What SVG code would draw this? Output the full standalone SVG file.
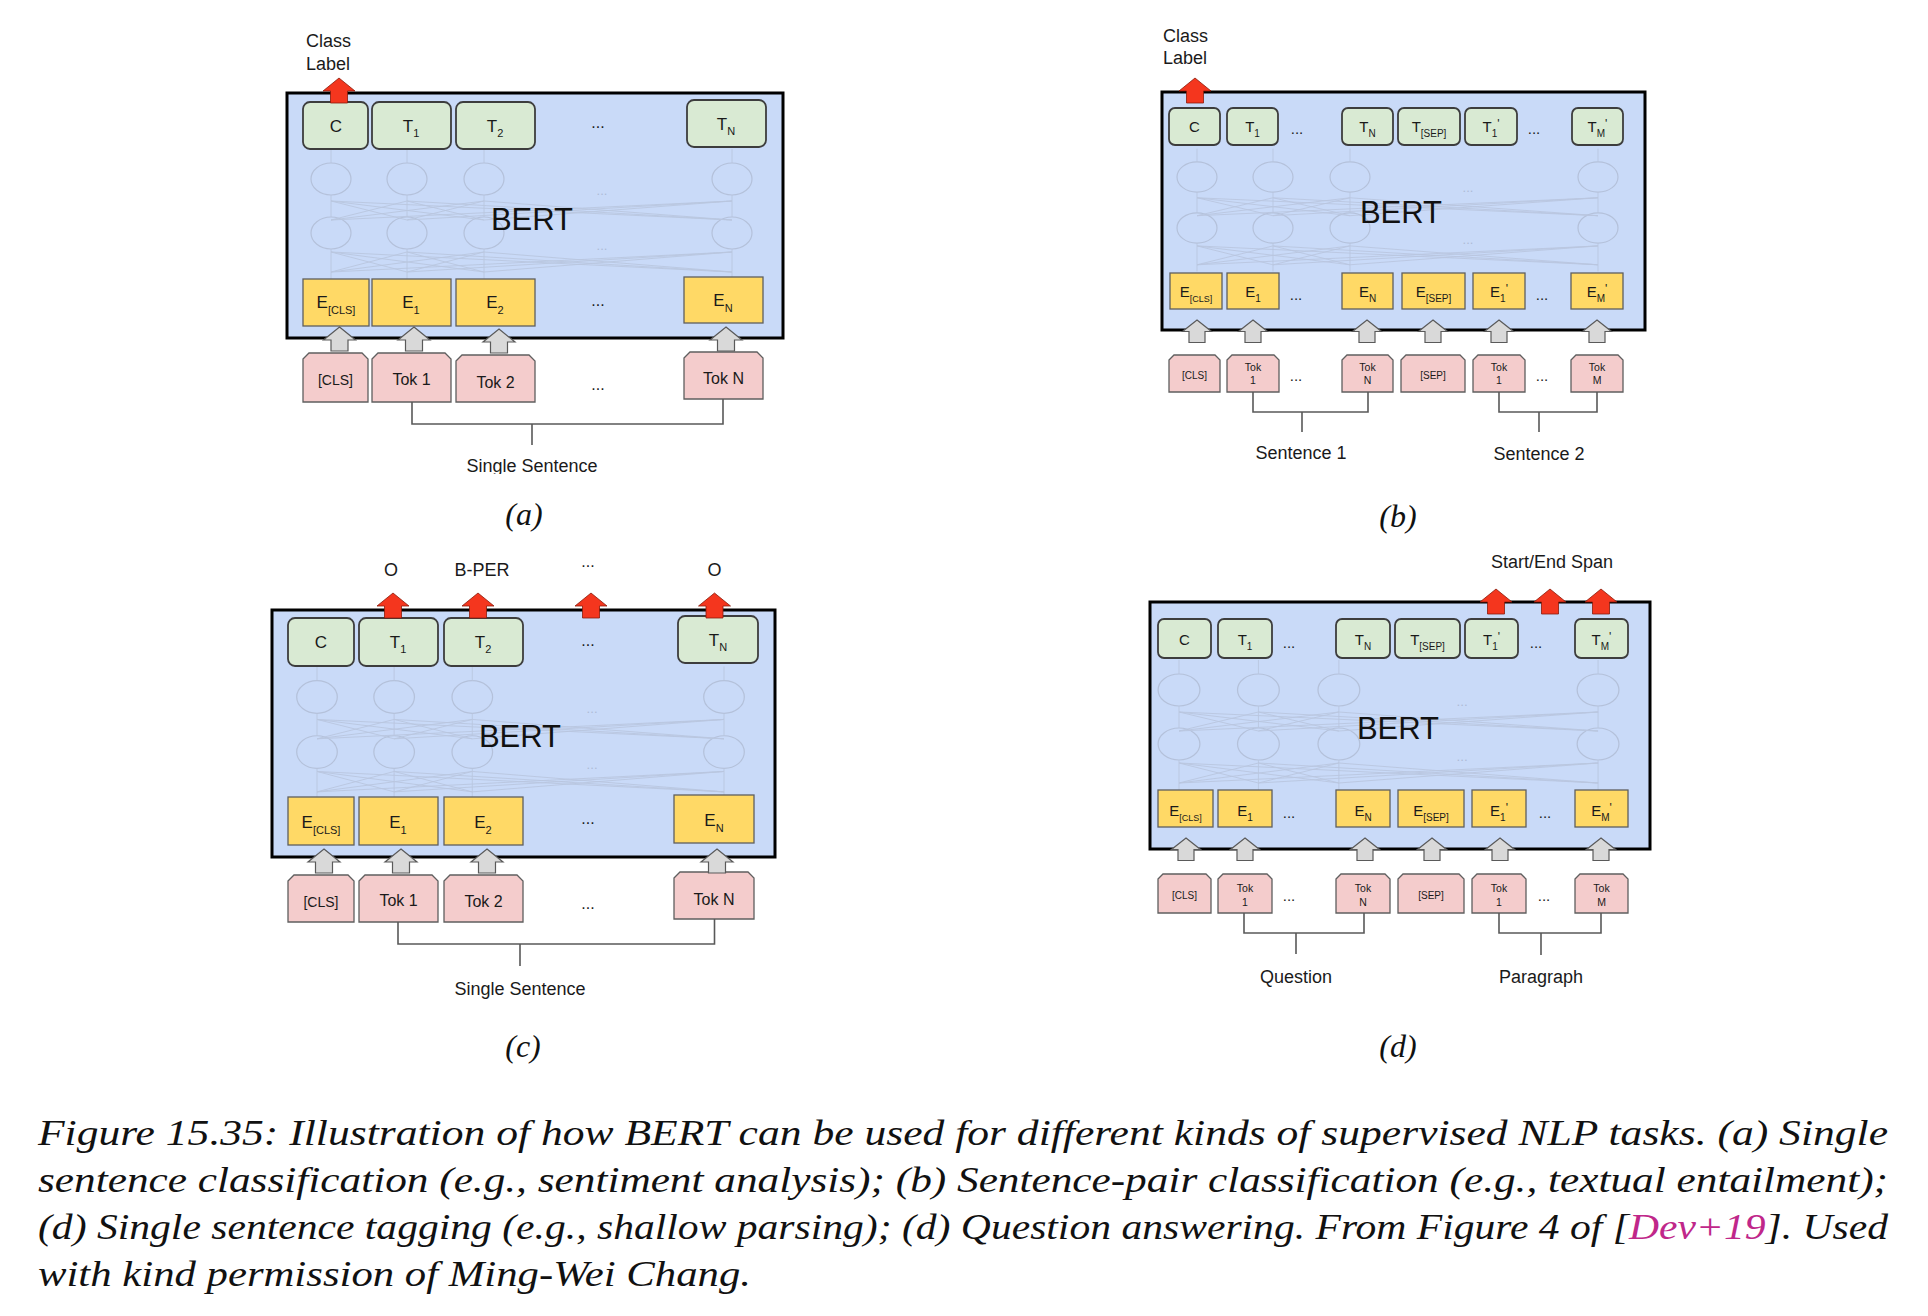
<svg xmlns="http://www.w3.org/2000/svg" xmlns:xlink="http://www.w3.org/1999/xlink" width="1928" height="1316" viewBox="0 0 1928 1316">
<style>
.bert{fill:#c9daf8;stroke:#000;stroke-width:3}
.out{fill:#d9ead3;stroke:#3d3d3d;stroke-width:1.8}
.emb{fill:#ffd966;stroke:#5f5f5f;stroke-width:1.3}
.tok{fill:#f4cccc;stroke:#5f5f5f;stroke-width:1.3}
.ga{fill:#d9d9d9;stroke:#5a5a5a;stroke-width:1.2}
.ra{fill:#f4361e;stroke:#8a1a0a;stroke-width:0.8}
.br{fill:none;stroke:#595959;stroke-width:1.6}
text{font-family:"Liberation Sans",Arial,sans-serif;fill:#1a1a1a}
.m{text-anchor:middle}
.nete{fill:none;stroke:#b4c1da;stroke-width:1.2}
.netl{fill:none;stroke:#b9c6df;stroke-width:0.9}
.netd{font-size:13px;fill:#aebbd6}
.bt{font-size:31px;text-anchor:middle;fill:#111}
.cap{font-family:"Liberation Serif","Times New Roman",serif;font-style:italic;font-size:35px;fill:#111}
.fig{font-family:"Liberation Serif","Times New Roman",serif;font-style:italic;font-size:32px;fill:#111;text-anchor:middle}
</style>
<defs>
<g id="net">
<ellipse class="nete" cx="0" cy="0" rx="20" ry="16"/><ellipse class="nete" cx="76" cy="0" rx="20" ry="16"/><ellipse class="nete" cx="153" cy="0" rx="20" ry="16"/><ellipse class="nete" cx="401" cy="0" rx="20" ry="16"/>
<ellipse class="nete" cx="0" cy="54" rx="20" ry="16"/><ellipse class="nete" cx="76" cy="54" rx="20" ry="16"/><ellipse class="nete" cx="153" cy="54" rx="20" ry="16"/><ellipse class="nete" cx="401" cy="54" rx="20" ry="16"/>
<path class="netl" d="M0 -16V-30M76 -16V-30M153 -16V-30M401 -16V-30M0 16V38M76 16V38M153 16V38M401 16V38M0 70V100M76 70V100M153 70V100M401 70V100"/>
<path class="netl" d="M0 41L76 22M0 41L153 22M0 41L401 22M76 41L0 22M76 41L153 22M76 41L401 22M153 41L0 22M153 41L76 22M153 41L401 22M401 41L0 22M401 41L76 22M401 41L153 22"/>
<path class="netl" d="M0 93L76 73M0 93L153 73M0 93L401 73M76 93L0 73M76 93L153 73M76 93L401 73M153 93L0 73M153 93L76 73M153 93L401 73M401 93L0 73M401 93L76 73M401 93L153 73"/>
<text class="netd" x="271" y="16" text-anchor="middle">...</text>
<text class="netd" x="271" y="71" text-anchor="middle">...</text>
</g>
<path id="ra" class="ra" d="M0 0L16 13L8.5 13L8.5 25L-8.5 25L-8.5 13L-16 13Z"/>
<path id="gaB" class="ga" d="M0 0L16 13L8.5 13L8.5 24L-8.5 24L-8.5 13L-16 13Z"/>
<path id="gaS" class="ga" d="M0 0L14.5 11.5L8 11.5L8 22.5L-8 22.5L-8 11.5L-14.5 11.5Z"/>
<clipPath id="clipA"><rect x="380" y="440" width="320" height="34"/></clipPath>
</defs>
<rect width="1928" height="1316" fill="#fff"/>

<!-- Panel (a) -->
<g id="panel-a">
<g id="a-bert"><rect class="bert" x="287" y="93" width="496" height="245"/>
<use xlink:href="#net" transform="translate(331,179)"/>
<text class="bt" x="532" y="230">BERT</text></g>
<g id="a-C"><rect class="out" x="303" y="102" width="65" height="47" rx="7"/><text class="m" x="336" y="132" font-size="17">C</text></g>
<g id="a-T1"><rect class="out" x="372" y="102" width="79" height="47" rx="7"/><text class="m" x="411" y="132" font-size="17">T<tspan dy="5" font-size="11">1</tspan></text></g>
<g id="a-T2"><rect class="out" x="456" y="102" width="79" height="47" rx="7"/><text class="m" x="495" y="132" font-size="17">T<tspan dy="5" font-size="11">2</tspan></text></g>
<text class="m" x="598" y="128" font-size="16">...</text>
<g id="a-TN"><rect class="out" x="687" y="100" width="79" height="47" rx="7"/><text class="m" x="726" y="130" font-size="17">T<tspan dy="5" font-size="11">N</tspan></text></g>
<g id="a-ECLS"><rect class="emb" x="303" y="279" width="66" height="47"/><text class="m" x="336" y="308" font-size="17">E<tspan dy="6" font-size="11">[CLS]</tspan></text></g>
<g id="a-E1"><rect class="emb" x="372" y="279" width="79" height="47"/><text class="m" x="411" y="308" font-size="17">E<tspan dy="6" font-size="11">1</tspan></text></g>
<g id="a-E2"><rect class="emb" x="456" y="279" width="79" height="47"/><text class="m" x="495" y="308" font-size="17">E<tspan dy="6" font-size="11">2</tspan></text></g>
<text class="m" x="598" y="306" font-size="16">...</text>
<g id="a-EN"><rect class="emb" x="684" y="277" width="79" height="46"/><text class="m" x="723" y="306" font-size="17">E<tspan dy="6" font-size="11">N</tspan></text></g>
<g id="a-tCLS"><path class="tok" d="M303 359L309 353H362L368 359V402H303Z"/><text class="m" x="335.5" y="385" font-size="14">[CLS]</text></g>
<g id="a-tok1"><path class="tok" d="M372 359L378 353H445L451 359V402H372Z"/><text class="m" x="411.5" y="385" font-size="16">Tok 1</text></g>
<g id="a-tok2"><path class="tok" d="M456 361L462 355H529L535 361V402H456Z"/><text class="m" x="495.5" y="388" font-size="16">Tok 2</text></g>
<text class="m" x="598" y="390" font-size="16">...</text>
<g id="a-tokN"><path class="tok" d="M684 358L690 352H757L763 358V399H684Z"/><text class="m" x="723.5" y="384" font-size="16">Tok N</text></g>
<text id="a-class" x="306" y="47" font-size="18">Class<tspan x="306" y="70">Label</tspan></text>
<text id="a-single" class="m" x="532" y="472" font-size="18" clip-path="url(#clipA)">Single Sentence</text>
<text class="fig" x="524" y="525">(a)</text>
</g>

<!-- Panel (b) -->
<g id="panel-b">
<g id="b-bert"><rect class="bert" x="1162" y="92" width="483" height="238"/>
<use xlink:href="#net" transform="translate(1197,177) scale(1,0.944)"/>
<text class="bt" x="1401" y="223" font-size="29">BERT</text></g>
<g id="b-C"><rect class="out" x="1169" y="108" width="51" height="37" rx="6"/><text class="m" x="1194.5" y="132" font-size="15">C</text></g>
<g id="b-T1"><rect class="out" x="1227" y="108" width="51" height="37" rx="6"/><text class="m" x="1252.5" y="132" font-size="15">T<tspan dy="5" font-size="10">1</tspan></text></g>
<text class="m" x="1297" y="134" font-size="15">...</text>
<g id="b-TN"><rect class="out" x="1342" y="108" width="51" height="37" rx="6"/><text class="m" x="1367.5" y="132" font-size="15">T<tspan dy="5" font-size="10">N</tspan></text></g>
<g id="b-TSEP"><rect class="out" x="1398" y="108" width="62" height="37" rx="6"/><text class="m" x="1429" y="132" font-size="15">T<tspan dy="5" font-size="10">[SEP]</tspan></text></g>
<g id="b-T1p"><rect class="out" x="1465" y="108" width="52" height="37" rx="6"/><text class="m" x="1491" y="132" font-size="15">T<tspan dy="5" font-size="10">1</tspan><tspan dy="-9" font-size="12">'</tspan></text></g>
<text class="m" x="1534" y="134" font-size="15">...</text>
<g id="b-TMp"><rect class="out" x="1572" y="108" width="51" height="37" rx="6"/><text class="m" x="1597.5" y="132" font-size="15">T<tspan dy="5" font-size="10">M</tspan><tspan dy="-9" font-size="12">'</tspan></text></g>
<g id="b-ECLS"><rect class="emb" x="1170" y="273" width="52" height="36"/><text class="m" x="1196" y="297" font-size="15">E<tspan dy="5" font-size="9">[CLS]</tspan></text></g>
<g id="b-E1"><rect class="emb" x="1227" y="273" width="52" height="36"/><text class="m" x="1253" y="297" font-size="15">E<tspan dy="5" font-size="10">1</tspan></text></g>
<text class="m" x="1296" y="300" font-size="15">...</text>
<g id="b-EN"><rect class="emb" x="1342" y="273" width="51" height="36"/><text class="m" x="1367.5" y="297" font-size="15">E<tspan dy="5" font-size="10">N</tspan></text></g>
<g id="b-ESEP"><rect class="emb" x="1402" y="273" width="63" height="36"/><text class="m" x="1433.5" y="297" font-size="15">E<tspan dy="5" font-size="10">[SEP]</tspan></text></g>
<g id="b-E1p"><rect class="emb" x="1473" y="273" width="52" height="36"/><text class="m" x="1499" y="297" font-size="15">E<tspan dy="5" font-size="10">1</tspan><tspan dy="-9" font-size="12">'</tspan></text></g>
<text class="m" x="1542" y="300" font-size="15">...</text>
<g id="b-EMp"><rect class="emb" x="1571" y="273" width="52" height="36"/><text class="m" x="1597" y="297" font-size="15">E<tspan dy="5" font-size="10">M</tspan><tspan dy="-9" font-size="12">'</tspan></text></g>
<g id="b-tCLS"><path class="tok" d="M1169 360L1174 355H1215L1220 360V392H1169Z"/><text class="m" x="1194.5" y="379" font-size="10">[CLS]</text></g>
<g id="b-tok1"><path class="tok" d="M1227 360L1232 355H1274L1279 360V392H1227Z"/><text class="m" x="1253" y="371" font-size="10.5">Tok<tspan x="1253" y="384">1</tspan></text></g>
<text class="m" x="1296" y="381" font-size="15">...</text>
<g id="b-tokN"><path class="tok" d="M1342 360L1347 355H1388L1393 360V392H1342Z"/><text class="m" x="1367.5" y="371" font-size="10.5">Tok<tspan x="1367.5" y="384">N</tspan></text></g>
<g id="b-tSEP"><path class="tok" d="M1401 360L1406 355H1460L1465 360V392H1401Z"/><text class="m" x="1433" y="379" font-size="10">[SEP]</text></g>
<g id="b-tok1p"><path class="tok" d="M1473 360L1478 355H1520L1525 360V392H1473Z"/><text class="m" x="1499" y="371" font-size="10.5">Tok<tspan x="1499" y="384">1</tspan></text></g>
<text class="m" x="1542" y="381" font-size="15">...</text>
<g id="b-tokM"><path class="tok" d="M1571 360L1576 355H1618L1623 360V392H1571Z"/><text class="m" x="1597" y="371" font-size="10.5">Tok<tspan x="1597" y="384">M</tspan></text></g>
<text id="b-class" x="1163" y="42" font-size="18">Class<tspan x="1163" y="64">Label</tspan></text>
<text id="b-s1" class="m" x="1301" y="459" font-size="18">Sentence 1</text>
<text id="b-s2" class="m" x="1539" y="460" font-size="18">Sentence 2</text>
<text class="fig" x="1398" y="527">(b)</text>
</g>

<!-- Panel (c) -->
<g id="panel-c">
<g id="c-bert"><rect class="bert" x="272" y="610" width="503" height="247"/>
<use xlink:href="#net" transform="translate(317,697) scale(1.015,1.02)"/>
<text class="bt" x="520" y="747">BERT</text></g>
<g id="c-C"><rect class="out" x="288" y="618" width="66" height="48" rx="7"/><text class="m" x="321" y="648" font-size="17">C</text></g>
<g id="c-T1"><rect class="out" x="359" y="618" width="79" height="48" rx="7"/><text class="m" x="398" y="648" font-size="17">T<tspan dy="5" font-size="11">1</tspan></text></g>
<g id="c-T2"><rect class="out" x="444" y="618" width="79" height="48" rx="7"/><text class="m" x="483" y="648" font-size="17">T<tspan dy="5" font-size="11">2</tspan></text></g>
<text class="m" x="588" y="646" font-size="16">...</text>
<g id="c-TN"><rect class="out" x="678" y="616" width="80" height="47" rx="7"/><text class="m" x="718" y="646" font-size="17">T<tspan dy="5" font-size="11">N</tspan></text></g>
<g id="c-ECLS"><rect class="emb" x="288" y="797" width="66" height="48"/><text class="m" x="321" y="828" font-size="17">E<tspan dy="6" font-size="11">[CLS]</tspan></text></g>
<g id="c-E1"><rect class="emb" x="359" y="797" width="79" height="48"/><text class="m" x="398" y="828" font-size="17">E<tspan dy="6" font-size="11">1</tspan></text></g>
<g id="c-E2"><rect class="emb" x="444" y="797" width="79" height="48"/><text class="m" x="483" y="828" font-size="17">E<tspan dy="6" font-size="11">2</tspan></text></g>
<text class="m" x="588" y="824" font-size="16">...</text>
<g id="c-EN"><rect class="emb" x="674" y="795" width="80" height="48"/><text class="m" x="714" y="826" font-size="17">E<tspan dy="6" font-size="11">N</tspan></text></g>
<g id="c-tCLS"><path class="tok" d="M288 881L294 875H348L354 881V922H288Z"/><text class="m" x="321" y="907" font-size="14">[CLS]</text></g>
<g id="c-tok1"><path class="tok" d="M359 881L365 875H432L438 881V922H359Z"/><text class="m" x="398.5" y="906" font-size="16">Tok 1</text></g>
<g id="c-tok2"><path class="tok" d="M444 881L450 875H517L523 881V922H444Z"/><text class="m" x="483.5" y="907" font-size="16">Tok 2</text></g>
<text class="m" x="588" y="909" font-size="16">...</text>
<g id="c-tokN"><path class="tok" d="M674 878L680 872H748L754 878V919H674Z"/><text class="m" x="714" y="905" font-size="16">Tok N</text></g>
<text id="c-l1" class="m" x="391" y="576" font-size="18">O</text>
<text id="c-l2" class="m" x="482" y="576" font-size="18">B-PER</text>
<text id="c-l3" class="m" x="588" y="567" font-size="16">...</text>
<text id="c-l4" class="m" x="714.5" y="576" font-size="18">O</text>
<text id="c-single" class="m" x="520" y="995" font-size="18">Single Sentence</text>
<text class="fig" x="523" y="1057">(c)</text>
</g>

<!-- Panel (d) -->
<g id="panel-d">
<g id="d-bert"><rect class="bert" x="1150" y="602" width="500" height="247"/>
<use xlink:href="#net" transform="translate(1179,690) scale(1.045,1)"/>
<text class="bt" x="1398" y="739" font-size="29">BERT</text></g>
<g id="d-C"><rect class="out" x="1158" y="619" width="53" height="39" rx="6"/><text class="m" x="1184.5" y="645" font-size="15">C</text></g>
<g id="d-T1"><rect class="out" x="1218" y="619" width="54" height="39" rx="6"/><text class="m" x="1245" y="645" font-size="15">T<tspan dy="5" font-size="10">1</tspan></text></g>
<text class="m" x="1289" y="648" font-size="15">...</text>
<g id="d-TN"><rect class="out" x="1336" y="619" width="54" height="39" rx="6"/><text class="m" x="1363" y="645" font-size="15">T<tspan dy="5" font-size="10">N</tspan></text></g>
<g id="d-TSEP"><rect class="out" x="1395" y="619" width="65" height="39" rx="6"/><text class="m" x="1427.5" y="645" font-size="15">T<tspan dy="5" font-size="10">[SEP]</tspan></text></g>
<g id="d-T1p"><rect class="out" x="1465" y="619" width="53" height="39" rx="6"/><text class="m" x="1491.5" y="645" font-size="15">T<tspan dy="5" font-size="10">1</tspan><tspan dy="-9" font-size="12">'</tspan></text></g>
<text class="m" x="1536" y="648" font-size="15">...</text>
<g id="d-TMp"><rect class="out" x="1575" y="619" width="53" height="39" rx="6"/><text class="m" x="1601.5" y="645" font-size="15">T<tspan dy="5" font-size="10">M</tspan><tspan dy="-9" font-size="12">'</tspan></text></g>
<g id="d-ECLS"><rect class="emb" x="1158" y="790" width="55" height="37"/><text class="m" x="1185.5" y="816" font-size="15">E<tspan dy="5" font-size="9">[CLS]</tspan></text></g>
<g id="d-E1"><rect class="emb" x="1218" y="790" width="54" height="37"/><text class="m" x="1245" y="816" font-size="15">E<tspan dy="5" font-size="10">1</tspan></text></g>
<text class="m" x="1289" y="818" font-size="15">...</text>
<g id="d-EN"><rect class="emb" x="1336" y="790" width="54" height="37"/><text class="m" x="1363" y="816" font-size="15">E<tspan dy="5" font-size="10">N</tspan></text></g>
<g id="d-ESEP"><rect class="emb" x="1398" y="790" width="66" height="37"/><text class="m" x="1431" y="816" font-size="15">E<tspan dy="5" font-size="10">[SEP]</tspan></text></g>
<g id="d-E1p"><rect class="emb" x="1472" y="790" width="54" height="37"/><text class="m" x="1499" y="816" font-size="15">E<tspan dy="5" font-size="10">1</tspan><tspan dy="-9" font-size="12">'</tspan></text></g>
<text class="m" x="1545" y="818" font-size="15">...</text>
<g id="d-EMp"><rect class="emb" x="1575" y="790" width="53" height="37"/><text class="m" x="1601.5" y="816" font-size="15">E<tspan dy="5" font-size="10">M</tspan><tspan dy="-9" font-size="12">'</tspan></text></g>
<g id="d-tCLS"><path class="tok" d="M1158 879L1163 874H1206L1211 879V913H1158Z"/><text class="m" x="1184.5" y="899" font-size="10">[CLS]</text></g>
<g id="d-tok1"><path class="tok" d="M1218 879L1223 874H1267L1272 879V913H1218Z"/><text class="m" x="1245" y="892" font-size="10.5">Tok<tspan x="1245" y="906">1</tspan></text></g>
<text class="m" x="1289" y="901" font-size="15">...</text>
<g id="d-tokN"><path class="tok" d="M1336 879L1341 874H1385L1390 879V913H1336Z"/><text class="m" x="1363" y="892" font-size="10.5">Tok<tspan x="1363" y="906">N</tspan></text></g>
<g id="d-tSEP"><path class="tok" d="M1398 879L1403 874H1459L1464 879V913H1398Z"/><text class="m" x="1431" y="899" font-size="10">[SEP]</text></g>
<g id="d-tok1p"><path class="tok" d="M1472 879L1477 874H1521L1526 879V913H1472Z"/><text class="m" x="1499" y="892" font-size="10.5">Tok<tspan x="1499" y="906">1</tspan></text></g>
<text class="m" x="1544" y="901" font-size="15">...</text>
<g id="d-tokM"><path class="tok" d="M1575 879L1580 874H1623L1628 879V913H1575Z"/><text class="m" x="1601.5" y="892" font-size="10.5">Tok<tspan x="1601.5" y="906">M</tspan></text></g>
<text id="d-span" class="m" x="1552" y="568" font-size="18">Start/End Span</text>
<text id="d-q" class="m" x="1296" y="983" font-size="18">Question</text>
<text id="d-p" class="m" x="1541" y="983" font-size="18">Paragraph</text>
<text class="fig" x="1398" y="1057">(d)</text>
</g>

<!-- Connectors -->
<g id="connectors">
<path class="br" d="M412 402V424H723V399M532 424V445"/>
<path class="br" d="M1253 392V412H1368V392M1302 412V432M1499 392V412H1597V392M1539 412V432"/>
<path class="br" d="M398 922V944H714.5V919M520 944V966"/>
<path class="br" d="M1244 913V933H1364V913M1296 933V954M1499 913V933H1601V913M1541 933V955"/>
<use xlink:href="#ra" x="339" y="78"/>
<use xlink:href="#ra" x="1195" y="78"/>
<use xlink:href="#ra" x="393" y="593"/><use xlink:href="#ra" x="478" y="593"/><use xlink:href="#ra" x="591" y="593"/><use xlink:href="#ra" x="714.5" y="593"/>
<use xlink:href="#ra" x="1496" y="589"/><use xlink:href="#ra" x="1550" y="589"/><use xlink:href="#ra" x="1601" y="589"/>
<use xlink:href="#gaB" x="339.5" y="327"/><use xlink:href="#gaB" x="414" y="327"/><use xlink:href="#gaB" x="499" y="329"/><use xlink:href="#gaB" x="726" y="327"/>
<use xlink:href="#gaS" x="1197" y="320"/><use xlink:href="#gaS" x="1253" y="320"/><use xlink:href="#gaS" x="1367" y="320"/><use xlink:href="#gaS" x="1433" y="320"/><use xlink:href="#gaS" x="1499" y="320"/><use xlink:href="#gaS" x="1597" y="320"/>
<use xlink:href="#gaB" x="324" y="849"/><use xlink:href="#gaB" x="401" y="849"/><use xlink:href="#gaB" x="487" y="849"/><use xlink:href="#gaB" x="717" y="849"/>
<use xlink:href="#gaS" x="1186" y="838"/><use xlink:href="#gaS" x="1245" y="838"/><use xlink:href="#gaS" x="1365" y="838"/><use xlink:href="#gaS" x="1432" y="838"/><use xlink:href="#gaS" x="1500" y="838"/><use xlink:href="#gaS" x="1601" y="838"/>
</g>

<!-- Caption -->
<g id="caption">
<text class="cap" x="38" y="1145" textLength="1850" lengthAdjust="spacingAndGlyphs">Figure 15.35: Illustration of how BERT can be used for different kinds of supervised NLP tasks. (a) Single</text>
<text class="cap" x="38" y="1192" textLength="1850" lengthAdjust="spacingAndGlyphs">sentence classification (e.g., sentiment analysis); (b) Sentence-pair classification (e.g., textual entailment);</text>
<text class="cap" x="38" y="1239" textLength="1850" lengthAdjust="spacingAndGlyphs">(d) Single sentence tagging (e.g., shallow parsing); (d) Question answering. From Figure 4 of [<tspan fill="#c0278a">Dev+19</tspan>]. Used</text>
<text class="cap" x="38" y="1286" textLength="713" lengthAdjust="spacingAndGlyphs">with kind permission of Ming-Wei Chang.</text>
</g>
</svg>
